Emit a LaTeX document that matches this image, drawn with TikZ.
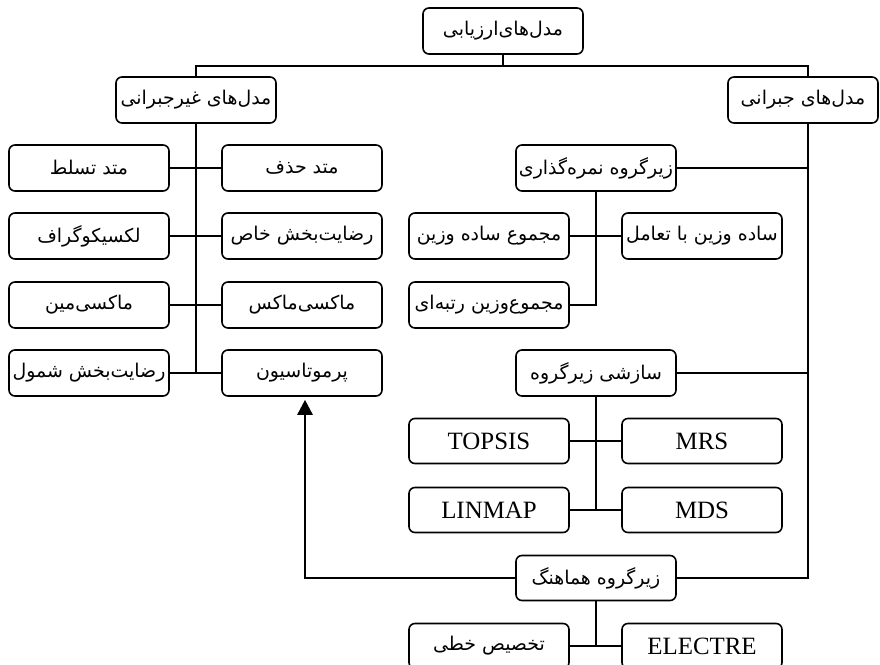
\documentclass[tikz,border=0pt]{standalone}
\usepackage{fontspec}
\setmainfont{Liberation Serif}
\newfontfamily\fafont[Script=Arabic]{DejaVu Sans}
\TeXXeTstate=1
\usetikzlibrary{arrows.meta}
\newcommand{\fa}[1]{{\fontsize{19}{21}\fafont\beginR #1\endR}}
\newcommand{\la}[1]{{\fontsize{25}{28}\selectfont #1}}
\begin{document}
\begin{tikzpicture}[x=1bp,y=-1bp,
  box/.style={draw, line width=1.6bp, rounded corners=6bp, minimum width=160bp, minimum height=46bp, inner sep=1bp, fill=white},
  conn/.style={line width=2.6bp}]
\useasboundingbox (0,0) rectangle (880,665);
\fill[white] (0,0) rectangle (880,665);
% top
\node[box] (top) at (503,31) {\fa{مدل‌های‌ارزیابی}};
\node[box] (nc) at (196,100) {\fa{مدل‌های غیرجبرانی}};
\node[box, minimum width=150bp] (comp) at (803,100) {\fa{مدل‌های جبرانی}};
\coordinate (jL) at (196,66);
\coordinate (jR) at (808,66);
% left column
\node[box] (L1) at (89,168) {\fa{متد تسلط}};
\node[box] (R1) at (302,168) {\fa{متد حذف}};
\node[box] (L2) at (89,236) {\fa{لکسیکوگراف}};
\node[box] (R2) at (302,236) {\fa{رضایت‌بخش خاص}};
\node[box] (L3) at (89,305) {\fa{ماکسی‌مین}};
\node[box] (R3) at (302,305) {\fa{ماکسی‌ماکس}};
\node[box] (L4) at (89,373) {\fa{رضایت‌بخش شمول}};
\node[box] (R4) at (302,373) {\fa{پرموتاسیون}};
% right side
\node[box] (ng) at (596,168) {\fa{زیرگروه نمره‌گذاری}};
\node[box] (sw) at (489,236) {\fa{مجموع ساده وزین}};
\node[box] (si) at (702,236) {\fa{ساده وزین با تعامل}};
\node[box] (rw) at (489,305) {\fa{مجموع‌وزین رتبه‌ای}};
\node[box] (sz) at (596,373) {\fa{سازشی زیرگروه}};
\node[box, minimum height=45bp] (topsis) at (489,441) {\la{TOPSIS}};
\node[box, minimum height=45bp] (mrs) at (702,441) {\la{MRS}};
\node[box, minimum height=45bp] (linmap) at (489,510) {\la{LINMAP}};
\node[box, minimum height=45bp] (mds) at (702,510) {\la{MDS}};
\node[box, minimum height=45bp] (hm) at (596,578) {\fa{زیرگروه هماهنگ}};
\node[box, minimum height=45bp] (tak) at (489,646) {\fa{تخصیص خطی}};
\node[box, minimum height=45bp] (el) at (702,646) {\la{ELECTRE}};
\coordinate (ac) at (305,0);
% connectors
\draw[conn] (top.south) -- (top.south |- jL);
\draw[conn] (nc.north) -- (jL) -- (jR) -- (comp.north -| jR);
\draw[conn] (nc.south) -- (nc.south |- L4.east);
\draw[conn] (L1.east) -- (R1.west);
\draw[conn] (L2.east) -- (R2.west);
\draw[conn] (L3.east) -- (R3.west);
\draw[conn] (L4.east) -- (R4.west);
\draw[conn] (comp.south -| jR) -- (jR |- hm.east) -- (hm.east);
\draw[conn] (ng.east) -- (ng.east -| jR);
\draw[conn] (ng.south) -- (ng.south |- rw.east) -- (rw.east);
\draw[conn] (sw.east) -- (si.west);
\draw[conn] (sz.east) -- (sz.east -| jR);
\draw[conn] (sz.south) -- (sz.south |- linmap.east);
\draw[conn] (topsis.east) -- (mrs.west);
\draw[conn] (linmap.east) -- (mds.west);
\draw[conn] (hm.south) -- (hm.south |- tak.east);
\draw[conn] (tak.east) -- (el.west);
\draw[conn, -{Triangle[length=15bp,width=15bp]}, shorten >=3bp] (hm.west) -- (hm.west -| ac) -- (R4.south -| ac);
\end{tikzpicture}
\end{document}
